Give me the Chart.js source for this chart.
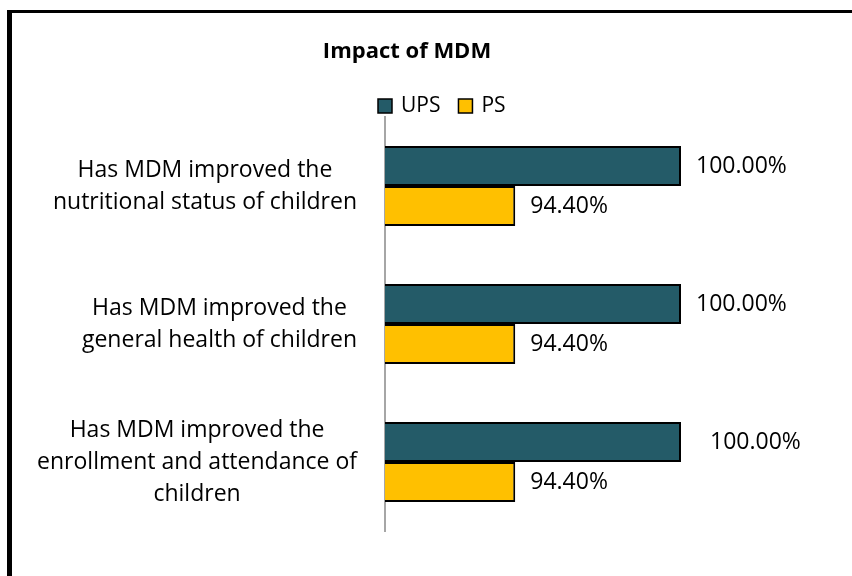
<!DOCTYPE html>
<html>
<head>
<meta charset="utf-8">
<script src="https://cdn.jsdelivr.net/npm/chart.js@4.4.1/dist/chart.umd.min.js"></script>
<style>
  html, body { margin: 0; padding: 0; background: #fff; }
  #wrap { position: relative; width: 852px; height: 576px; }
</style>
</head>
<body>
<div id="wrap"><canvas id="mdmChart" width="852" height="576"></canvas></div>
<script>
// Chart data
const chartTitle = 'Impact of MDM';
const categories = [
    ['Has MDM improved the', 'nutritional status of children'],
    ['Has MDM improved the', 'general health of children'],
    ['Has MDM improved the', 'enrollment and attendance of', 'children']
];
const seriesNames = ['UPS', 'PS'];
const upsValues = [100.0, 100.0, 100.0];
const psValues = [94.4, 94.4, 94.4];

const FONT = "'Open Sans', 'Noto Sans', sans-serif";
const COLOR_UPS = '#245B68';
const COLOR_PS = '#FFC000';

// outer frame (left + top rule only, like the source image)
const framePlugin = {
    id: 'frame',
    beforeDraw(chart) {
        const ctx = chart.ctx;
        ctx.save();
        ctx.fillStyle = '#fff';
        ctx.fillRect(0, 0, chart.width, chart.height);
        ctx.fillStyle = '#000';
        ctx.fillRect(7, 10, 5, chart.height - 10);
        ctx.fillRect(7, 10, chart.width - 7, 3);
        ctx.restore();
    }
};

// title + legend drawn by hand so they can sit at different centres
const headerPlugin = {
    id: 'header',
    afterDraw(chart) {
        const ctx = chart.ctx;
        ctx.save();
        ctx.fillStyle = '#000';
        ctx.font = `bold 22px ${FONT}`;
        ctx.textAlign = 'center';
        ctx.textBaseline = 'middle';
        ctx.fillText(chartTitle, 407, 52);

        // legend
        ctx.font = `21px ${FONT}`;
        ctx.textAlign = 'left';
        let x = 378;
        const y = 106;
        chart.data.datasets.forEach(ds => {
            ctx.fillStyle = ds.backgroundColor;
            ctx.fillRect(x, y - 7, 14, 14);
            ctx.strokeStyle = '#000';
            ctx.lineWidth = 1.5;
            ctx.strokeRect(x, y - 7, 14, 14);
            ctx.fillStyle = '#000';
            ctx.fillText(ds.label, x + 23, y);
            x += 23 + ctx.measureText(ds.label).width + 18;
        });
        ctx.restore();
    }
};

// category labels: each block right-aligned, lines centred within it
const categoryLabelPlugin = {
    id: 'categoryLabels',
    afterDraw(chart) {
        const ctx = chart.ctx;
        const yScale = chart.scales.y;
        const rightEdge = 357;
        const lineHeight = 32;
        ctx.save();
        ctx.font = `23px ${FONT}`;
        ctx.fillStyle = '#000';
        ctx.textAlign = 'center';
        ctx.textBaseline = 'middle';
        categories.forEach((lines, i) => {
            const yc = yScale.getPixelForTick(i);
            const widest = Math.max(...lines.map(l => ctx.measureText(l).width));
            const cx = rightEdge - widest / 2;
            const y0 = yc - (lines.length - 1) * lineHeight / 2;
            lines.forEach((l, j) => ctx.fillText(l, cx, y0 + j * lineHeight));
        });
        ctx.restore();
    }
};

// value labels next to bar ends
const labelNudge = { 0: [0, 0, 14], 1: [0, 0, 0] };
const valueLabelPlugin = {
    id: 'valueLabels',
    afterDatasetsDraw(chart) {
        const ctx = chart.ctx;
        ctx.save();
        ctx.font = `23px ${FONT}`;
        ctx.fillStyle = '#000';
        ctx.textAlign = 'left';
        ctx.textBaseline = 'middle';
        chart.data.datasets.forEach((ds, di) => {
            chart.getDatasetMeta(di).data.forEach((bar, i) => {
                ctx.fillText(ds.data[i].toFixed(2) + '%', bar.x + 15 + labelNudge[di][i], bar.y);
            });
        });
        ctx.restore();
    }
};

const ctx = document.getElementById('mdmChart').getContext('2d');
new Chart(ctx, {
    type: 'bar',
    data: {
        labels: categories,
        datasets: [
            {
                label: seriesNames[0],
                data: upsValues,
                backgroundColor: COLOR_UPS,
                borderColor: '#000',
                borderWidth: 2,
                borderSkipped: false
            },
            {
                label: seriesNames[1],
                data: psValues,
                backgroundColor: COLOR_PS,
                borderColor: '#000',
                borderWidth: 2,
                borderSkipped: false
            }
        ]
    },
    options: {
        indexAxis: 'y',
        responsive: false,
        animation: false,
        categoryPercentage: 0.58,
        barPercentage: 1.0,
        layout: { padding: { top: 117, right: 23, bottom: 45, left: 0 } },
        scales: {
            x: {
                display: false,
                min: 90,
                max: 105
            },
            y: {
                grid: { display: false, drawTicks: false },
                ticks: { display: false },
                border: { display: true, color: '#a6a6a6', width: 2 },
                afterFit(scale) { scale.width = 385; }
            }
        },
        plugins: {
            legend: { display: false },
            title: { display: false },
            tooltip: { enabled: false }
        }
    },
    plugins: [framePlugin, headerPlugin, categoryLabelPlugin, valueLabelPlugin]
});
</script>
</body>
</html>
